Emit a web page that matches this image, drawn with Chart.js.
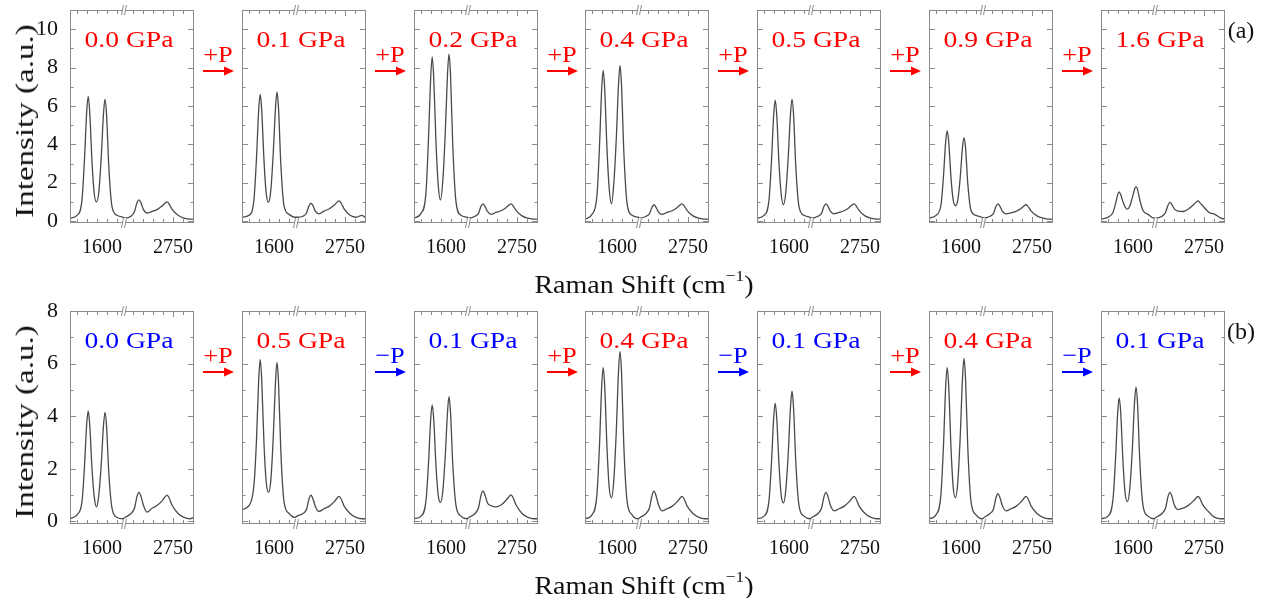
<!DOCTYPE html>
<html>
<head>
<meta charset="utf-8">
<script src="https://cdn.jsdelivr.net/npm/chart.js@4.4.1/dist/chart.umd.min.js"></script>
<style>
  html, body { margin:0; padding:0; background:#fff; }
  #fig { position:relative; width:1270px; height:598px; overflow:hidden;
         font-family:'Liberation Serif','Times New Roman',serif; }
  #fig canvas { position:absolute; }
  .txt { position:absolute; white-space:nowrap; line-height:1; transform-origin:center center; }
</style>
</head>
<body>
<div id="fig"></div>
<script>
/* ----------------------------------------------------------
   Data (Raman shift in cm-1, intensity in a.u.)
   ---------------------------------------------------------- */
const SHIFT_LEFT  = [1280,1350,1400,1425,1447,1462,1477,1500,1522,1545,1568,1592,1615,1630,1645,1668,1700,1750,1810];
const SHIFT_RIGHT = [2270,2330,2365,2390,2410,2430,2455,2490,2540,2590,2640,2670,2690,2710,2740,2800,2860,2920,2960];

// row (a): compression
const SPEC_A1 = [.15,.3,1.1,3.25,5.7,6.5,5.7,3.1,1.45,1.0,1.5,3.3,5.6,6.35,5.6,2.85,.75,.3,.2,
                 .15,.25,.5,.95,1.1,.95,.6,.42,.5,.6,.78,.93,1.0,.9,.62,.3,.15,.1,.1];
const SPEC_A2 = [.2,.3,1.15,3.3,5.8,6.6,5.8,3.15,1.45,.97,1.6,3.5,5.9,6.73,5.9,3.0,.8,.35,.2,
                 .2,.25,.42,.8,.93,.8,.5,.38,.52,.63,.82,.98,1.05,.95,.65,.3,.2,.3,.15];
const SPEC_A3 = [.15,.4,1.5,4.3,7.5,8.55,7.5,4.1,1.9,1.1,2.1,4.5,7.65,8.7,7.65,3.9,1.0,.3,.2,
                 .15,.25,.4,.77,.9,.77,.5,.35,.45,.54,.7,.84,.9,.81,.56,.27,.15,.1,.1];
const SPEC_A4 = [.1,.35,1.35,3.9,6.9,7.85,6.9,3.75,1.7,.9,1.95,4.2,7.1,8.1,7.1,3.65,.95,.3,.2,
                 .15,.25,.38,.72,.85,.72,.47,.35,.45,.54,.7,.84,.9,.81,.56,.27,.15,.1,.1];
const SPEC_A5 = [.15,.3,1.1,3.15,5.55,6.3,5.55,3.0,1.4,.85,1.5,3.3,5.6,6.35,5.6,2.85,.75,.3,.2,
                 .15,.25,.4,.77,.9,.77,.5,.38,.45,.54,.7,.84,.9,.81,.56,.27,.15,.1,.1];
const SPEC_A6 = [.15,.3,.85,2.35,4.15,4.7,4.15,2.25,1.1,.8,1.1,2.25,3.85,4.35,3.85,1.95,.55,.3,.2,
                 .15,.25,.4,.77,.9,.77,.5,.38,.43,.51,.66,.79,.85,.77,.53,.27,.15,.1,.1];
const SPEC_A7 = [.1,.2,.45,.9,1.38,1.52,1.38,1.0,.72,.62,.78,1.2,1.65,1.8,1.65,1.1,.55,.35,.15,
                 .15,.25,.45,.82,.97,.85,.62,.52,.5,.62,.82,.98,1.05,.95,.78,.45,.35,.15,.1];

// row (b): load / unload cycles
const SPEC_B1 = [.1,.25,.75,2.1,3.7,4.2,3.7,2.0,.95,.55,1.0,2.15,3.65,4.14,3.65,1.85,.5,.15,.1,
                 .15,.3,.5,.95,1.1,.95,.6,.35,.5,.6,.78,.93,1.0,.9,.62,.3,.15,.1,.15];
const SPEC_B2 = [.45,.6,1.4,3.1,5.4,6.15,5.4,2.95,1.5,1.1,1.55,3.15,5.3,6.05,5.3,2.7,.75,.3,.15,
                 .2,.3,.45,.85,1.0,.85,.55,.38,.48,.57,.74,.88,.95,.86,.59,.3,.15,.1,.1];
const SPEC_B3 = [.1,.2,.8,2.2,3.9,4.43,3.9,2.1,1.0,.72,1.15,2.45,4.15,4.74,4.15,2.15,.6,.2,.1,
                 .15,.3,.52,.99,1.16,1.0,.7,.6,.55,.62,.8,.94,1.01,.91,.63,.3,.15,.1,.1];
const SPEC_B4 = [.1,.25,1.05,2.9,5.15,5.85,5.15,2.8,1.3,.9,1.55,3.35,5.7,6.45,5.7,2.9,.8,.25,.1,
                 .15,.3,.52,.98,1.15,.98,.63,.4,.48,.57,.74,.88,.95,.86,.59,.3,.15,.1,.1];
const SPEC_B5 = [.1,.2,.8,2.25,3.95,4.5,3.95,2.15,1.0,.7,1.2,2.55,4.35,4.95,4.35,2.25,.6,.2,.1,
                 .15,.3,.5,.94,1.1,.94,.6,.4,.48,.57,.74,.88,.95,.86,.59,.3,.15,.1,.1];
const SPEC_B6 = [.1,.25,1.05,2.9,5.15,5.85,5.15,2.8,1.3,.9,1.5,3.2,5.45,6.2,5.45,2.8,.75,.25,.1,
                 .15,.3,.47,.9,1.05,.9,.58,.4,.48,.57,.74,.88,.95,.86,.59,.3,.15,.1,.1];
const SPEC_B7 = [.1,.2,.85,2.35,4.15,4.7,4.15,2.25,1.05,.75,1.25,2.65,4.5,5.1,4.5,2.3,.6,.2,.1,
                 .15,.3,.5,.94,1.1,.94,.6,.45,.5,.6,.76,.88,.95,.86,.62,.35,.15,.1,.1];

const PRESSURE_A = ['0.0 GPa','0.1 GPa','0.2 GPa','0.4 GPa','0.5 GPa','0.9 GPa','1.6 GPa'];
const PRESSURE_B = ['0.0 GPa','0.5 GPa','0.1 GPa','0.4 GPa','0.1 GPa','0.4 GPa','0.1 GPa'];
const STEP_A = ['+P','+P','+P','+P','+P','+P'];
const STEP_B = ['+P','\u2212P','+P','\u2212P','+P','\u2212P'];

const X_TICK_LABELS = [1600, 2750];
const X_MINOR = [1350,1450,1550,1650,1750, 2350,2450,2550,2650,2750,2850,2950];
const Y_TICKS_A = [0,2,4,6,8,10];
const Y_TICKS_B = [0,2,4,6,8];
const Y_MINOR_A = [0,1,2,3,4,5,6,7,8,9,10];
const Y_MINOR_B = [0,1,2,3,4,5,6,7];

/* ----------------------------------------------------------
   Broken x axis: 1280-1820 | 2260-2960
   ---------------------------------------------------------- */
const BREAK_LO = 1820, BREAK_HI = 2260;
const toAxis = cm => cm <= BREAK_LO ? cm : cm - (BREAK_HI - BREAK_LO);
const X_MIN = 1280, X_MAX = toAxis(2960);

const RED = '#ff0000', BLUE = '#0000ff';
const FRAME_COLOR = '#8a8a8a', LINE_COLOR = '#4a4a4a';
const PANEL_X0 = 70, PANEL_DX = 171.75, PANEL_W = 124, PANEL_H = 213;
const Y_AXIS_W = 60, PAD_T = 30, PAD_R = 26, X_AXIS_H = 40;

const ROWS = [
  { top:10,  spectra:[SPEC_A1,SPEC_A2,SPEC_A3,SPEC_A4,SPEC_A5,SPEC_A6,SPEC_A7],
    labels:PRESSURE_A, labelColors:[RED,RED,RED,RED,RED,RED,RED],
    steps:STEP_A, yMax:11, yTicks:Y_TICKS_A, yMinor:Y_MINOR_A, tag:'(a)' },
  { top:311, spectra:[SPEC_B1,SPEC_B2,SPEC_B3,SPEC_B4,SPEC_B5,SPEC_B6,SPEC_B7],
    labels:PRESSURE_B, labelColors:[BLUE,RED,BLUE,RED,BLUE,RED,BLUE],
    steps:STEP_B, yMax:8, yTicks:Y_TICKS_B, yMinor:Y_MINOR_B, tag:'(b)' },
];

Chart.defaults.font.family = "'Liberation Serif','Times New Roman',serif";

/* ----------------------------------------------------------
   Frame, inward ticks and axis-break marks
   ---------------------------------------------------------- */
const framePlugin = {
  id:'frame',
  afterDatasetsDraw(chart, args, opts) {
    const { ctx, chartArea:a, scales:{ x, y } } = chart;
    ctx.save();
    ctx.strokeStyle = FRAME_COLOR; ctx.lineWidth = 1;
    ctx.strokeRect(a.left + 0.5, a.top + 0.5, a.width - 1, a.height - 1);
    ctx.beginPath();
    opts.yMinor.forEach(v => {
      const py = Math.round(y.getPixelForValue(v)) + 0.5;
      const len = opts.yMajor.includes(v) ? 6 : 3.5;
      ctx.moveTo(a.left, py);  ctx.lineTo(a.left + len, py);
      ctx.moveTo(a.right, py); ctx.lineTo(a.right - len, py);
    });
    X_MINOR.forEach(v => {
      const px = Math.round(x.getPixelForValue(toAxis(v))) + 0.5;
      const len = v === 2750 ? 6 : 4;
      ctx.moveTo(px, a.top);    ctx.lineTo(px, a.top + len);
      ctx.moveTo(px, a.bottom); ctx.lineTo(px, a.bottom - len);
    });
    ctx.stroke();
    const bx = x.getPixelForValue(BREAK_LO);
    [a.top, a.bottom].forEach(by => {
      ctx.fillStyle = '#fff';
      ctx.beginPath();
      ctx.moveTo(bx - 2.5, by + 5); ctx.lineTo(bx - 0.5, by - 5);
      ctx.lineTo(bx + 2.5, by - 5); ctx.lineTo(bx + 0.5, by + 5);
      ctx.closePath(); ctx.fill();
      ctx.beginPath();
      ctx.moveTo(bx - 2.5, by + 5); ctx.lineTo(bx - 0.5, by - 5);
      ctx.moveTo(bx + 0.5, by + 5); ctx.lineTo(bx + 2.5, by - 5);
      ctx.stroke();
    });
    ctx.restore();
  }
};

/* ----------------------------------------------------------
   Helpers for text and arrows
   ---------------------------------------------------------- */
const fig = document.getElementById('fig');
function addText(html, x, y, size, color, extra) {
  const d = document.createElement('div');
  d.className = 'txt';
  d.innerHTML = html;
  d.style.left = x + 'px'; d.style.top = y + 'px';
  d.style.fontSize = size + 'px'; d.style.color = color;
  d.style.transform = 'translate(-50%,-50%) ' + (extra || '');
  fig.appendChild(d);
}
function addArrow(x, y, color) {
  const svg = document.createElementNS('http://www.w3.org/2000/svg', 'svg');
  svg.setAttribute('width', 32); svg.setAttribute('height', 12);
  svg.style.position = 'absolute';
  svg.style.left = x + 'px'; svg.style.top = (y - 6) + 'px';
  svg.innerHTML = `<line x1="0" y1="6" x2="24" y2="6" stroke="${color}" stroke-width="2"/>
    <path d="M21 1.5 L31 6 L21 10.5 Z" fill="${color}"/>`;
  fig.appendChild(svg);
}

/* ----------------------------------------------------------
   Panels
   ---------------------------------------------------------- */
const SHIFTS = SHIFT_LEFT.concat(SHIFT_RIGHT);

ROWS.forEach(row => {
  row.spectra.forEach((spec, c) => {
    const px = Math.round(PANEL_X0 + c * PANEL_DX);
    const canvas = document.createElement('canvas');
    canvas.width  = Y_AXIS_W + PANEL_W + PAD_R;
    canvas.height = PAD_T + PANEL_H + X_AXIS_H;
    canvas.style.left = (px - Y_AXIS_W) + 'px';
    canvas.style.top  = (row.top - PAD_T) + 'px';
    fig.appendChild(canvas);

    new Chart(canvas, {
      type:'line',
      data:{ datasets:[{
        data: SHIFTS.map((s, i) => ({ x: toAxis(s), y: spec[i] })),
        borderColor: LINE_COLOR, borderWidth: 1.3, pointRadius: 0,
        cubicInterpolationMode: 'monotone', fill: false,
      }]},
      options:{
        responsive:false, animation:false, events:[],
        layout:{ padding:{ left:0, right:PAD_R, top:PAD_T, bottom:0 } },
        plugins:{ legend:{ display:false }, tooltip:{ enabled:false },
                  frame:{ yMinor: row.yMinor, yMajor: row.yTicks } },
        scales:{
          x:{ type:'linear', min:X_MIN, max:X_MAX,
              afterFit: s => { s.height = X_AXIS_H; },
              afterBuildTicks: s => { s.ticks = X_TICK_LABELS.map(v => ({ value: toAxis(v) })); },
              ticks:{ autoSkip:false, maxRotation:0, padding:13, color:'#111',
                      font:{ size:20 }, callback:(v, i) => String(X_TICK_LABELS[i]) },
              grid:{ display:false, drawTicks:false }, border:{ display:false } },
          y:{ min:-0.1, max:row.yMax,
              afterFit: s => { s.width = Y_AXIS_W; },
              afterBuildTicks: s => { s.ticks = row.yTicks.map(v => ({ value: v })); },
              ticks:{ display: c === 0, padding:12, color:'#111', font:{ size:22 } },
              grid:{ display:false, drawTicks:false }, border:{ display:false } },
        },
      },
      plugins:[framePlugin],
    });

    // pressure label inside panel
    addText(row.labels[c], px + PANEL_W / 2 - 3, row.top + 29, 24, row.labelColors[c], 'scaleX(1.15)');

    // step arrow to the next panel
    if (c < row.steps.length) {
      const gapMid = px + PANEL_W + (PANEL_DX - PANEL_W) / 2;
      const col = row.steps[c] === '+P' ? RED : BLUE;
      addText(row.steps[c], gapMid, row.top + 44, 24, col, 'scaleX(1.1)');
      addArrow(gapMid - 15, row.top + 61, col);
    }
  });

  addText('Intensity (a.u.)', 25, row.top + 111, 26, '#111', 'rotate(-90deg) scaleX(1.27)');
  addText('Raman Shift (cm<span style="font-size:0.62em;position:relative;top:-0.8em">\u22121</span>)',
          644, row.top + 274, 25, '#111', 'scaleX(1.12)');
  addText(row.tag, 1241, row.top + 20, 24, '#111');
});
</script>
</body>
</html>
